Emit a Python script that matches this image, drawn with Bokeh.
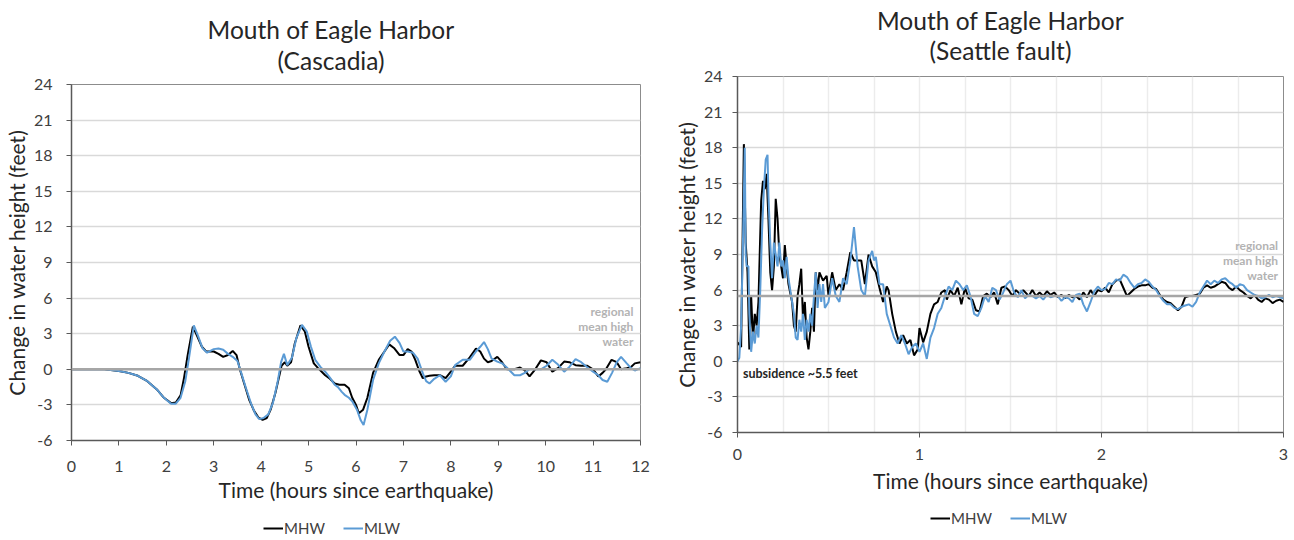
from bokeh.plotting import figure
from bokeh.models import (Range1d, FixedTicker, Label, Legend, LegendItem, Span)
from bokeh.layouts import row, column
from bokeh.embed import file_html
from bokeh.resources import INLINE

FONT = "Lato"

# ---------------- data: Cascadia (left) ----------------
casc_mhw_t = [0, 0.4, 0.7, 1.0, 1.2, 1.4, 1.6, 1.8, 1.95, 2.1, 2.2, 2.3, 2.37, 2.45, 2.56, 2.65, 2.75, 2.84,
              3.0, 3.1, 3.2, 3.3, 3.4, 3.48, 3.55, 3.65, 3.75, 3.85, 3.95, 4.03, 4.12, 4.2, 4.3, 4.43, 4.5,
              4.55, 4.63, 4.71, 4.83, 4.92, 5.0, 5.11, 5.2, 5.35, 5.45, 5.55, 5.65, 5.76, 5.85, 5.92, 6.0,
              6.06, 6.15, 6.24, 6.36, 6.48, 6.6, 6.7, 6.8, 6.92, 7.0, 7.09, 7.17, 7.25, 7.33, 7.41, 7.48,
              7.55, 7.65, 7.77, 7.89, 8.0, 8.09, 8.25, 8.4, 8.53, 8.62, 8.7, 8.78, 8.86, 8.98, 9.08, 9.18,
              9.34, 9.46, 9.56, 9.66, 9.78, 9.9, 10.02, 10.14, 10.26, 10.39, 10.5, 10.63, 10.75, 10.87, 11.0,
              11.11, 11.2, 11.27, 11.39, 11.5, 11.59, 11.71, 11.8, 11.88, 12.0]
casc_mhw_v = [0, 0, 0, -0.15, -0.3, -0.55, -1.0, -1.7, -2.4, -2.85, -2.8, -2.2, -0.8, 1.2, 3.6, 2.8, 1.9, 1.5,
              1.5, 1.3, 1.05, 1.2, 1.55, 1.2, 0.0, -1.3, -2.6, -3.5, -4.1, -4.25, -4.1, -3.4, -2.0, 0.3, 0.6,
              0.3, 0.6, 2.2, 3.7, 3.2, 1.9, 0.5, 0.1, -0.5, -0.8, -1.2, -1.3, -1.3, -1.6, -2.4, -3.0,
              -3.7, -3.4, -2.4, -0.3, 0.8, 1.5, 2.1, 1.8, 1.2, 1.2, 1.7, 1.5, 0.8, -0.1, -0.75, -0.6,
              -0.55, -0.5, -0.5, -0.75, -0.2, 0.3, 0.3, 1.0, 1.75, 1.5, 0.9, 0.6, 0.7, 1.05, 0.6, 0.0,
              0.0, 0.15, -0.1, -0.6, 0.0, 0.75, 0.6, -0.2, 0.1, 0.65, 0.6, 0.35, 0.3, 0.3, 0.0,
              -0.6, -0.3, 0.0, 0.8, 0.6, 0.0, 0.1, 0.2, 0.5, 0.6]

casc_mlw_t = [0, 0.4, 0.7, 1.0, 1.2, 1.4, 1.6, 1.8, 1.95, 2.1, 2.2, 2.3, 2.4, 2.48, 2.58, 2.67, 2.76, 2.86,
              3.0, 3.1, 3.2, 3.3, 3.4, 3.5, 3.58, 3.68, 3.78, 3.88, 3.96, 4.05, 4.15, 4.25, 4.35, 4.42, 4.48,
              4.55, 4.65, 4.74, 4.86, 4.96, 5.05, 5.14, 5.25, 5.35, 5.45, 5.55, 5.62, 5.7, 5.76, 5.85, 5.92,
              6.02, 6.1, 6.16, 6.24, 6.36, 6.48, 6.6, 6.72, 6.82, 6.92, 7.0, 7.09, 7.2, 7.3, 7.41, 7.48,
              7.55, 7.65, 7.77, 7.89, 8.0, 8.09, 8.25, 8.4, 8.53, 8.62, 8.7, 8.78, 8.86, 8.98, 9.08, 9.18,
              9.34, 9.46, 9.56, 9.66, 9.78, 9.9, 10.02, 10.14, 10.26, 10.39, 10.5, 10.63, 10.75, 10.87, 11.0,
              11.11, 11.2, 11.3, 11.4, 11.5, 11.59, 11.71, 11.8, 11.88, 12.0]
casc_mlw_v = [0, 0, 0, -0.15, -0.3, -0.55, -1.0, -1.7, -2.4, -2.9, -2.9, -2.4, -1.0, 1.0, 3.7, 2.8, 1.8, 1.4,
              1.7, 1.75, 1.65, 1.3, 1.05, 0.7, -0.3, -1.6, -2.8, -3.8, -4.2, -4.1, -3.8, -2.8, -1.0, 0.6, 1.3,
              0.35, 1.0, 2.6, 3.75, 3.2, 1.9, 0.8, 0.2, -0.2, -0.7, -1.3, -1.5, -1.9, -2.15, -2.4, -2.7,
              -3.4, -4.3, -4.7, -3.4, -0.9, 0.5, 1.5, 2.4, 2.75, 2.2, 1.5, 1.5, 1.4, 0.9, -0.35, -1.0,
              -1.2, -0.8, -0.5, -1.05, -0.6, 0.35, 0.8, 0.8, 1.5, 1.9, 2.3, 1.7, 0.9, 0.65, 0.5, 0.15,
              -0.5, -0.5, -0.3, 0.0, 0.0, 0.0, 0.3, 0.8, 0.4, -0.2, 0.2, 0.85, 0.6, 0.2, -0.2,
              -0.5, -0.9, -1.05, -0.3, 0.6, 1.05, 0.5, 0.1, -0.1, 0.1]

# ---------------- data: Seattle fault (right) ----------------
seat_mhw_t = [0.0, 0.02, 0.035, 0.045, 0.055, 0.065, 0.075, 0.085, 0.095, 0.105, 0.115, 0.13, 0.14, 0.15, 0.16,
              0.17, 0.18, 0.19, 0.2, 0.21, 0.22, 0.23, 0.24, 0.25, 0.26, 0.27, 0.28, 0.3, 0.31, 0.32, 0.33,
              0.34, 0.35, 0.36, 0.37, 0.38, 0.39, 0.4, 0.41, 0.42, 0.43, 0.44, 0.45, 0.47, 0.49, 0.5, 0.52,
              0.54, 0.56, 0.58, 0.6, 0.62, 0.64, 0.66, 0.68, 0.7, 0.72, 0.74, 0.76, 0.78, 0.8, 0.82, 0.83,
              0.85, 0.87, 0.89, 0.91, 0.93, 0.95, 0.97, 0.99, 1.0, 1.02, 1.04, 1.06, 1.08, 1.1, 1.12, 1.14,
              1.15, 1.17, 1.19, 1.21, 1.23, 1.25, 1.27, 1.29, 1.31, 1.33, 1.35, 1.37, 1.39, 1.41, 1.43, 1.45,
              1.47, 1.49, 1.51, 1.53, 1.55, 1.57, 1.6, 1.62, 1.64, 1.66, 1.68, 1.7, 1.72, 1.74, 1.76, 1.78,
              1.8, 1.82, 1.84, 1.86, 1.88, 1.9, 1.92, 1.94, 1.96, 1.98, 2.0, 2.02, 2.04, 2.06, 2.08, 2.1,
              2.12, 2.14, 2.16, 2.18, 2.2, 2.22, 2.24, 2.26, 2.28, 2.3, 2.32, 2.34, 2.36, 2.38, 2.4, 2.42,
              2.44, 2.46, 2.48, 2.5, 2.52, 2.54, 2.56, 2.58, 2.6, 2.62, 2.64, 2.66, 2.68, 2.7, 2.72, 2.74,
              2.76, 2.78, 2.8, 2.82, 2.84, 2.86, 2.88, 2.9, 2.92, 2.94, 2.96, 2.98, 3.0]
seat_mhw_v = [1.6, 1.2, 18.3, 10.0, 7.5, 1.0, 5.5, 1.8, 4.0, 3.0, 5.0, 13.5, 15.2, 14.5, 15.8,
              12.0, 7.5, 6.0, 8.0, 13.7, 12.0, 9.0, 8.0, 7.0, 9.8, 8.0, 6.5, 5.0, 3.0, 2.5, 5.5,
              6.5, 7.8, 3.5, 5.0, 2.0, 1.0, 2.5, 4.5, 2.5, 7.5, 6.0, 7.5, 6.8, 7.2, 5.5, 7.5,
              6.0, 6.5, 6.0, 7.5, 9.2, 8.5, 8.5, 8.5, 6.5, 9.0, 8.0, 7.5, 6.2, 5.0, 6.3, 6.0,
              4.0, 2.5, 1.5, 2.2, 1.5, 1.8, 0.5, 1.0, 2.8, 1.6, 2.5, 4.0, 4.8, 5.0, 5.8, 6.0,
              5.2, 6.0, 5.5, 6.2, 4.8, 6.2, 5.3, 5.2, 4.3, 4.2, 5.5, 5.7, 5.4, 5.8, 4.8, 6.2,
              6.3, 6.0, 5.5, 6.0, 5.7, 6.0, 5.5, 6.0, 5.5, 5.8, 5.5, 5.9, 5.6, 5.8, 5.4, 5.6,
              5.3, 5.6, 5.4, 5.5, 5.2, 5.8, 5.4, 6.0, 5.5, 6.0, 5.9, 6.2, 5.8, 6.5, 6.8, 6.9,
              6.2, 5.5, 5.8, 6.1, 6.3, 6.4, 6.4, 6.5, 6.2, 6.1, 5.6, 5.2, 5.0, 4.9, 4.6, 4.3,
              4.6, 5.4, 5.5, 5.5, 5.6, 5.7, 6.2, 6.4, 6.2, 6.3, 6.5, 6.7, 6.6, 6.2, 6.0, 6.3,
              6.0, 5.8, 5.5, 5.3, 5.6, 5.2, 5.0, 5.3, 5.2, 4.9, 5.1, 5.2, 5.0]

seat_mlw_t = [0.0, 0.01, 0.02, 0.03, 0.04, 0.045, 0.05, 0.06, 0.065, 0.075, 0.085, 0.095, 0.105, 0.115, 0.125,
              0.135, 0.145, 0.155, 0.165, 0.17, 0.18, 0.19, 0.2, 0.21, 0.22, 0.23, 0.24, 0.25, 0.26, 0.27,
              0.28, 0.29, 0.3, 0.31, 0.32, 0.33, 0.34, 0.35, 0.36, 0.37, 0.38, 0.39, 0.4, 0.41, 0.42, 0.43,
              0.44, 0.45, 0.46, 0.47, 0.48, 0.5, 0.52, 0.54, 0.56, 0.58, 0.6, 0.62, 0.64, 0.66, 0.68, 0.7,
              0.72, 0.74, 0.75, 0.76, 0.78, 0.8, 0.82, 0.84, 0.86, 0.88, 0.9, 0.92, 0.94, 0.96, 0.98, 1.0,
              1.02, 1.04, 1.06, 1.08, 1.1, 1.12, 1.14, 1.16, 1.18, 1.2, 1.22, 1.24, 1.26, 1.28, 1.3, 1.32,
              1.34, 1.36, 1.38, 1.4, 1.42, 1.44, 1.46, 1.48, 1.5, 1.52, 1.54, 1.56, 1.58, 1.6, 1.62, 1.64,
              1.66, 1.68, 1.7, 1.72, 1.74, 1.76, 1.78, 1.8, 1.82, 1.84, 1.86, 1.88, 1.9, 1.92, 1.94, 1.96,
              1.98, 2.0, 2.02, 2.04, 2.06, 2.08, 2.1, 2.12, 2.14, 2.16, 2.18, 2.2, 2.22, 2.24, 2.26, 2.28,
              2.3, 2.32, 2.34, 2.36, 2.38, 2.4, 2.42, 2.44, 2.46, 2.48, 2.5, 2.52, 2.54, 2.56, 2.58, 2.6,
              2.62, 2.64, 2.66, 2.68, 2.7, 2.72, 2.74, 2.76, 2.78, 2.8, 2.82, 2.84, 2.86, 2.88, 2.9, 2.92,
              2.94, 2.96, 2.98, 3.0]
seat_mlw_v = [0.0, 0.3, 3.0, 10.0, 18.0, 9.0, 8.0, 8.0, 4.0, 0.8, 2.5, 1.5, 3.0, 2.0, 6.0,
              11.0, 14.5, 17.0, 17.4, 14.0, 10.0, 7.0, 10.0, 9.0, 8.0, 10.0, 8.0, 8.5, 7.0, 8.8,
              7.0, 6.0, 5.0, 4.0, 2.0, 1.8, 3.5, 2.5, 4.0, 1.8, 3.5, 2.5, 4.0, 3.0, 5.5, 7.5,
              4.5, 6.5, 5.0, 6.5, 4.5, 5.0, 7.0, 5.5, 5.0, 7.0, 6.5, 8.5, 11.3, 8.0, 6.0, 5.5,
              8.5, 9.3, 8.5, 8.8, 6.5, 6.5, 4.0, 3.0, 2.0, 1.5, 2.2, 1.5, 0.6, 1.2, 1.5, 0.8,
              1.5, 0.2, 2.0, 2.8, 4.0, 4.5, 5.5, 6.3, 6.0, 6.8, 6.5, 6.0, 6.4, 5.5, 4.0, 3.8,
              4.5, 5.5, 5.0, 6.2, 6.0, 5.2, 5.8, 6.5, 6.8, 5.8, 5.4, 6.0, 5.3, 5.6, 5.5, 5.3,
              5.5, 5.2, 5.6, 5.4, 5.5, 5.5, 5.1, 5.4, 5.3, 5.0, 5.6, 5.7, 4.8, 4.2, 5.0, 5.9,
              6.3, 6.0, 6.1, 6.6, 6.5, 6.9, 6.8, 7.3, 7.1, 6.6, 6.2, 6.5, 6.6, 6.9, 6.7, 6.3,
              6.0, 5.5, 5.1, 4.8, 4.8, 4.5, 4.4, 4.6, 4.7, 4.8, 4.6, 5.0, 5.8, 6.3, 6.8, 6.5,
              6.8, 6.6, 6.9, 7.0, 6.7, 6.5, 6.2, 6.5, 6.4, 6.0, 5.8, 5.6, 5.5, 5.3, 5.4, 5.6,
              5.4, 5.5, 5.4, 5.3]

y_ticks = [-6, -3, 0, 3, 6, 9, 12, 15, 18, 21, 24]
y_tick_text = {-6: "-6", -3: "-3"}
left_x_ticks = list(range(0, 13))
right_x_ticks = [0, 1, 2, 3]
right_grid_ticks = [0, 0.25, 0.5, 0.75, 1, 1.25, 1.5, 1.75, 2, 2.25, 2.5, 2.75, 3]

left_ref_level = 0.0
right_ref_level = 5.5

left_title = ["Mouth of Eagle Harbor", "(Cascadia)"]
right_title = ["Mouth of Eagle Harbor", "(Seattle fault)"]
series_names = ["MHW", "MLW"]

BLACK = "#000000"
BLUE = "#5b9bd5"
AXIS = "#595959"
TXT = "#404040"


def make_fig(width, height, xr, xticks, borders, x_std, x_lab_std, y_std):
    p = figure(width=width, height=height, output_backend="svg", toolbar_location=None,
               x_range=Range1d(*xr), y_range=Range1d(-6, 24),
               min_border_left=borders[0], min_border_right=borders[1],
               min_border_top=borders[2], min_border_bottom=borders[3])
    p.background_fill_color = "white"
    p.border_fill_color = "white"
    p.outline_line_color = "#8c8c8c"
    p.outline_line_width = 1
    for ax in (p.xaxis[0], p.yaxis[0]):
        ax.axis_line_color = AXIS
        ax.axis_line_width = 1.5
        ax.major_tick_line_color = AXIS
        ax.major_tick_out = 5
        ax.major_tick_in = 0
        ax.minor_tick_line_color = None
        ax.major_label_text_font = FONT
        ax.major_label_text_font_size = "16px"
        ax.major_label_text_color = TXT
        ax.axis_label_text_font = FONT
        ax.axis_label_text_font_size = "21px"
        ax.axis_label_text_font_style = "normal"
        ax.axis_label_text_color = "#262626"
    p.xaxis.ticker = FixedTicker(ticks=xticks)
    p.yaxis.ticker = FixedTicker(ticks=y_ticks)
    p.yaxis.major_label_overrides = y_tick_text
    p.xaxis.axis_label = "Time (hours since earthquake)"
    p.yaxis.axis_label = "Change in water height (feet)"
    p.xaxis.major_label_standoff = x_std
    p.xaxis.axis_label_standoff = x_lab_std
    p.yaxis.major_label_standoff = y_std
    p.yaxis.axis_label_standoff = 2
    p.ygrid.ticker = FixedTicker(ticks=y_ticks)
    p.ygrid.grid_line_color = "#d9d9d9"
    p.ygrid.grid_line_width = 1.5
    return p


def title_fig(width, height, borders, lines, x_px, baselines):
    frame_w = width - borders[0] - borders[1]
    q = figure(width=width, height=height, output_backend="svg", toolbar_location=None,
               x_range=Range1d(0, frame_w), y_range=Range1d(0, height),
               min_border_left=borders[0], min_border_right=borders[1],
               min_border_top=0, min_border_bottom=0,
               x_axis_type=None, y_axis_type=None)
    q.grid.visible = False
    q.outline_line_color = None
    q.background_fill_color = "white"
    q.border_fill_color = "white"
    for txt, b in zip(lines, baselines):
        q.add_layout(Label(x=x_px, y=height - b, text=txt, text_align="center",
                           text_baseline="alphabetic", text_font=FONT, text_font_size="24.5px",
                           text_color="#262626"))
    return q


def legend_fig(width, height, borders, xa, ya, xb, yb, x_px, y_px):
    q = figure(width=width, height=height, output_backend="svg", toolbar_location=None,
               x_range=Range1d(100, 101), y_range=Range1d(100, 101),
               min_border_left=borders[0], min_border_right=borders[1],
               min_border_top=0, min_border_bottom=0,
               x_axis_type=None, y_axis_type=None)
    q.grid.visible = False
    q.outline_line_color = None
    q.background_fill_color = "white"
    q.border_fill_color = "white"
    ra = q.line(xa, ya, line_color=BLACK, line_width=2)
    rb = q.line(xb, yb, line_color=BLUE, line_width=2)
    leg = Legend(items=[LegendItem(label=series_names[0], renderers=[ra]),
                        LegendItem(label=series_names[1], renderers=[rb])],
                 orientation="horizontal", location=(x_px, y_px), border_line_color=None,
                 background_fill_alpha=0, label_text_font=FONT, label_text_font_size="15px",
                 label_text_color=TXT, glyph_width=20, glyph_height=18, label_height=18,
                 label_standoff=1, spacing=18, padding=0, margin=0)
    q.add_layout(leg)
    return q


# ---------- left ----------
LB = (70, 20)
t1 = title_fig(660, 74, LB, left_title, 260, [29, 60])
p1 = make_fig(660, 431, (0, 12), left_x_ticks, (LB[0], LB[1], 10, 65), 15, 2, 14)
p1.xgrid.grid_line_color = None
p1.add_layout(Span(location=left_ref_level, dimension="width", line_color="#a6a6a6", line_width=2.5))
p1.line(casc_mhw_t, casc_mhw_v, line_color=BLACK, line_width=2)
p1.line(casc_mlw_t, casc_mlw_v, line_color=BLUE, line_width=2)
for txt, yy in (("regional", 4.9), ("mean high", 3.6), ("water", 2.35)):
    p1.add_layout(Label(x=11.85, y=yy, text=txt, text_align="right", text_baseline="middle",
                        text_font=FONT, text_font_size="12px", text_font_style="bold",
                        text_color="#b3b3b3"))
l1 = legend_fig(660, 35, LB, casc_mhw_t, casc_mhw_v, casc_mlw_t, casc_mlw_v, 192, 3)

# ---------- right ----------
RB = (77, 11)
t2 = title_fig(634, 66, RB, right_title, 263, [20, 50])
p2 = make_fig(634, 429, (0, 3), right_x_ticks, (RB[0], RB[1], 10, 63), 11, 5, 10)
p2.xgrid.ticker = FixedTicker(ticks=right_grid_ticks)
p2.xgrid.grid_line_color = "#ececec"
p2.xgrid.grid_line_width = 1.5
p2.add_layout(Span(location=right_ref_level, dimension="width", line_color="#a6a6a6", line_width=2.5))
p2.line(seat_mhw_t, seat_mhw_v, line_color=BLACK, line_width=2)
p2.line(seat_mlw_t, seat_mlw_v, line_color=BLUE, line_width=2)
for txt, yy in (("regional", 9.77), ("mean high", 8.5), ("water", 7.25)):
    p2.add_layout(Label(x=2.97, y=yy, text=txt, text_align="right", text_baseline="middle",
                        text_font=FONT, text_font_size="12px", text_font_style="bold",
                        text_color="#b3b3b3"))
p2.add_layout(Label(x=0.03, y=-1.0, text="subsidence ~5.5 feet", text_align="left",
                    text_baseline="middle", text_font=FONT, text_font_size="12.5px",
                    text_font_style="bold", text_color="#262626"))
l2 = legend_fig(634, 45, RB, seat_mhw_t, seat_mhw_v, seat_mlw_t, seat_mlw_v, 193, 13)

layout = row(column(t1, p1, l1), column(t2, p2, l2))
open("out.html", "w").write(file_html(layout, INLINE))
